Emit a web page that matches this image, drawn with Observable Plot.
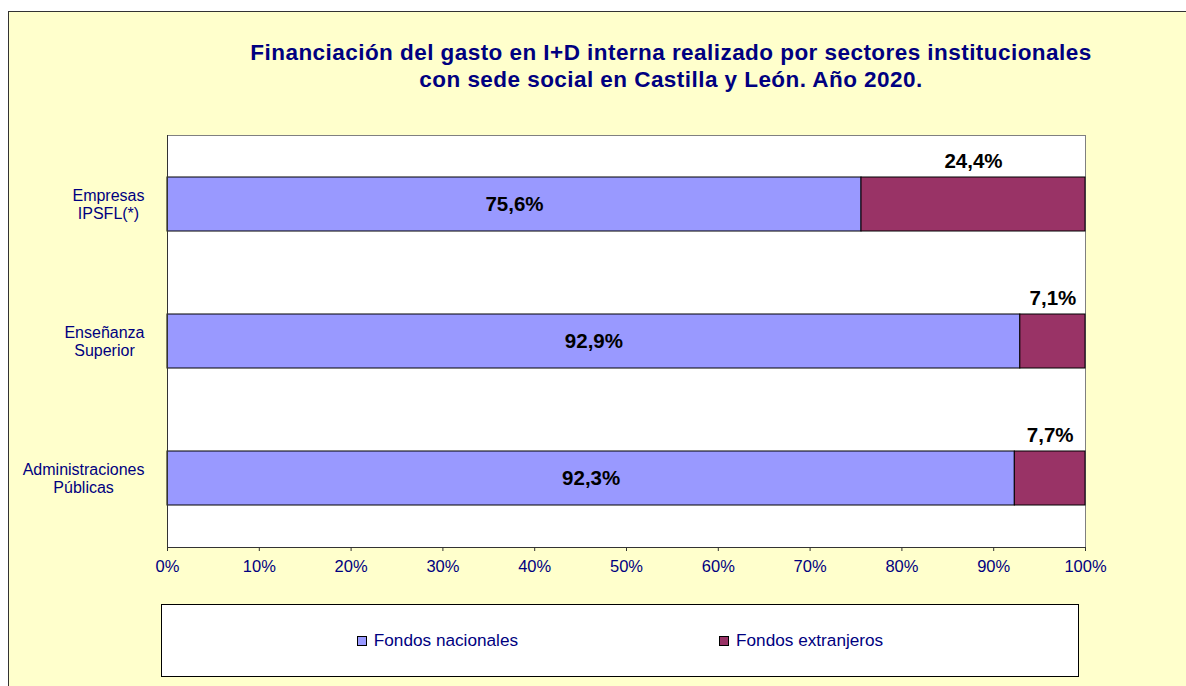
<!DOCTYPE html>
<html><head><meta charset="utf-8">
<script src="https://cdn.jsdelivr.net/npm/d3@7"></script>
<script src="https://cdn.jsdelivr.net/npm/@observablehq/plot@0.6"></script>
<style>
html,body{margin:0;padding:0;background:#fff;overflow:hidden;}
#wrap{position:relative;width:1186px;height:686px;overflow:hidden;font-family:"Liberation Sans",Arial,sans-serif;}
#bg{position:absolute;left:8px;top:11px;width:1200px;height:700px;background:#FFFFCC;border-left:1px solid #333;border-top:1px solid #333;}
#title{position:absolute;left:171px;top:39px;width:1000px;text-align:center;font-weight:bold;font-size:22.5px;letter-spacing:0.45px;line-height:27px;color:#000080;}
#chart{position:absolute;left:0;top:0;}
#legend{position:absolute;left:161px;top:604px;width:916px;height:71px;border:1px solid #000;background:#fff;display:flex;align-items:center;justify-content:center;gap:201px;font-size:17.2px;color:#000080;}
.item{display:flex;align-items:center;}
.sw{width:8px;height:8px;border:1px solid #000;margin-right:7px;}
</style></head>
<body><div id="wrap"><div id="bg"></div><div id="chart"></div>
<div id="title">Financiación del gasto en I+D interna realizado por sectores institucionales<br>con sede social en Castilla y León. Año 2020.</div>
<div id="legend"></div></div>
<script>
const sectores = ["Empresas\nIPSFL(*)", "Enseñanza\nSuperior", "Administraciones\nPúblicas"];
const fuentes = ["Fondos nacionales", "Fondos extranjeros"];
const nacionales = [75.6, 92.9, 92.3];
const extranjeros = [24.4, 7.1, 7.7];
const xTicks = [0, 10, 20, 30, 40, 50, 60, 70, 80, 90, 100];
const colores = ["#9999FF", "#993366"];

const rows = sectores.flatMap((s, i) => [
  {sector: s, fuente: fuentes[0], value: nacionales[i]},
  {sector: s, fuente: fuentes[1], value: extranjeros[i]}
]);
const labNac = sectores.map((s, i) => ({sector: s, v: nacionales[i], start: 0}));
const labExt = sectores.map((s, i) => ({sector: s, v: extranjeros[i], start: nacionales[i]}));
const fmt = v => v.toFixed(1).replace(".", ",") + "%";

const plot = Plot.plot({
  width: 1186, height: 686,
  marginLeft: 167, marginRight: 101, marginTop: 135, marginBottom: 139,
  style: {background: "transparent", fontFamily: '"Liberation Sans", Arial, sans-serif'},
  x: {domain: [0, 100], ticks: xTicks, tickFormat: d => d + "%", label: null},
  y: {domain: sectores, paddingInner: 0.607, paddingOuter: 0.3035, label: null},
  color: {domain: fuentes, range: colores},
  marks: [
    Plot.frame({fill: "white", stroke: "#808080"}),
    Plot.barX(rows, {y: "sector", x: "value", fill: "fuente", stroke: "#000", strokeWidth: 1}),
    Plot.text(labNac, {y: "sector", x: d => d.start + d.v / 2, text: d => fmt(d.v), fontSize: 20.5, fontWeight: "bold", fill: "#000"}),
    Plot.text(labExt, {y: "sector", x: d => d.start + d.v / 2, text: d => fmt(d.v), fontSize: 20.5, fontWeight: "bold", fill: "#000", dy: -43}),
    Plot.ruleX([0], {stroke: "#333"}),
    Plot.frame({anchor: "bottom", stroke: "#333"}),
    Plot.axisX({ticks: xTicks, tickFormat: d => d + "%", tickSize: 4, tickPadding: 9, fontSize: 16.5, fill: "#000080", stroke: "#333", label: null}),
    Plot.axisY({tickSize: 0, tickPadding: 23, fontSize: 16, fill: "#000080", lineHeight: 1.12, label: null})
  ]
});
document.getElementById("chart").appendChild(plot);

// centre each multi-line category label as a block, right-aligned to the axis
plot.querySelectorAll('g[aria-label="y-axis tick label"] text').forEach(t => {
  const spans = t.querySelectorAll("tspan");
  let w = 0;
  if (spans.length) spans.forEach(s => { w = Math.max(w, s.getComputedTextLength()); });
  else w = t.getComputedTextLength();
  t.setAttribute("text-anchor", "middle");
  const tr = t.getAttribute("transform") || "";
  t.setAttribute("transform", tr + ` translate(${-w / 2},0)`);
});

const legend = document.getElementById("legend");
fuentes.forEach((f, i) => {
  const it = document.createElement("div");
  it.className = "item";
  const sw = document.createElement("div");
  sw.className = "sw";
  sw.style.background = colores[i];
  const lb = document.createElement("span");
  lb.textContent = f;
  it.appendChild(sw); it.appendChild(lb);
  legend.appendChild(it);
});
</script>
</body></html>
